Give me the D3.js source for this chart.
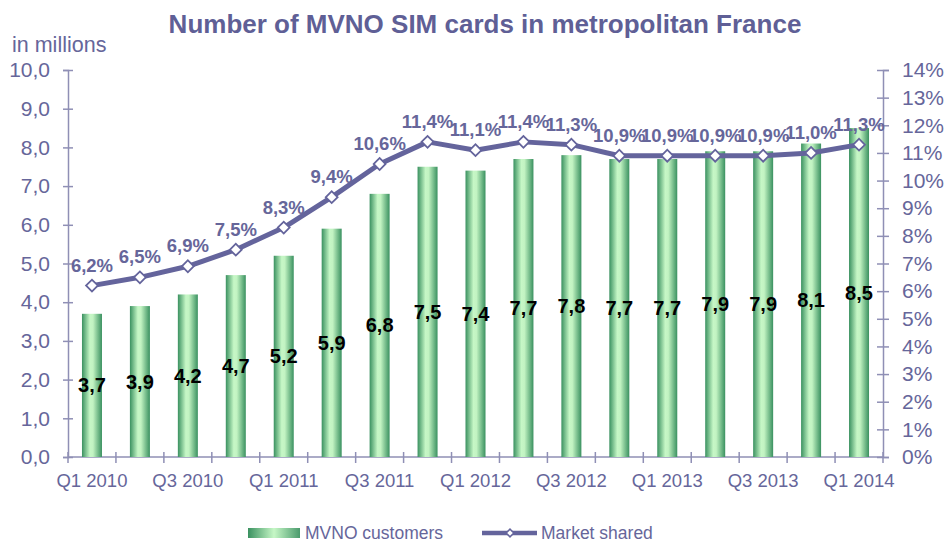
<!DOCTYPE html>
<html lang="en">
  <head>
    <meta charset="UTF-8" />
    <title>MVNO SIM cards</title>
    <script src="https://d3js.org/d3.v7.min.js"></script>
    <style>
      body { margin: 0; background: #fff; }
      text { font-family: "Liberation Sans", Arial, sans-serif; }
    </style>
  </head>
  <body>
    <div id="my_dataviz"></div>
    <script>
      // quarters, MVNO customers (millions), market share (%)
      const quarters = ['Q1 2010', 'Q2 2010', 'Q3 2010', 'Q4 2010', 'Q1 2011', 'Q2 2011', 'Q3 2011', 'Q4 2011',
        'Q1 2012', 'Q2 2012', 'Q3 2012', 'Q4 2012', 'Q1 2013', 'Q2 2013', 'Q3 2013', 'Q4 2013', 'Q1 2014'];
      const customers = [3.7, 3.9, 4.2, 4.7, 5.2, 5.9, 6.8, 7.5, 7.4, 7.7, 7.8, 7.7, 7.7, 7.9, 7.9, 8.1, 8.5];
      const share = [6.2, 6.5, 6.9, 7.5, 8.3, 9.4, 10.6, 11.4, 11.1, 11.4, 11.3, 10.9, 10.9, 10.9, 10.9, 11.0, 11.3];
      const leftTicks = [0, 1, 2, 3, 4, 5, 6, 7, 8, 9, 10];
      const rightTicks = [0, 1, 2, 3, 4, 5, 6, 7, 8, 9, 10, 11, 12, 13, 14];

      const width = 945, height = 543;
      const margin = { top: 70, right: 62, bottom: 86, left: 68 };
      const axisColor = '#8f8fb5';
      const textColor = '#66669a';
      const lineColor = '#64649c';

      const fr = d3.formatLocale({ decimal: ',', thousands: ' ', grouping: [3], currency: ['', '€'] });
      const f1 = fr.format('.1f');

      const svg = d3.select('#my_dataviz')
        .append('svg')
          .attr('width', width)
          .attr('height', height);

      const defs = svg.append('defs');
      const grad = defs.append('linearGradient')
        .attr('id', 'barGrad')
        .attr('x1', '0%').attr('x2', '100%')
        .attr('y1', '0%').attr('y2', '0%');
      grad.append('stop').attr('offset', '0%').attr('stop-color', '#3a9160');
      grad.append('stop').attr('offset', '40%').attr('stop-color', '#c6f7c6');
      grad.append('stop').attr('offset', '55%').attr('stop-color', '#c2f3c2');
      grad.append('stop').attr('offset', '100%').attr('stop-color', '#3a9160');

      const x = d3.scaleBand()
        .domain(quarters)
        .range([margin.left, width - margin.right]);

      const y = d3.scaleLinear()
        .domain([0, 10])
        .range([height - margin.bottom, margin.top]);

      const y2 = d3.scaleLinear()
        .domain([0, 14])
        .range([height - margin.bottom, margin.top]);

      // title
      svg.append('text')
        .attr('x', 485)
        .attr('y', 33)
        .attr('text-anchor', 'middle')
        .style('font-size', '26px')
        .style('font-weight', 'bold')
        .style('fill', '#5f5f96')
        .text('Number of MVNO SIM cards in metropolitan France');

      svg.append('text')
        .attr('x', 12)
        .attr('y', 52)
        .style('font-size', '21.5px')
        .style('fill', textColor)
        .text('in millions');

      // left axis
      const gl = svg.append('g')
        .attr('transform', `translate(${margin.left},0)`)
        .call(d3.axisLeft(y).tickValues(leftTicks).tickFormat(f1).tickSize(5).tickPadding(13));
      gl.selectAll('.tick line').attr('x2', 5).attr('x1', -5);

      // right axis
      const gr = svg.append('g')
        .attr('transform', `translate(${width - margin.right},0)`)
        .call(d3.axisRight(y2).tickValues(rightTicks).tickFormat(d => d + '%').tickSize(6).tickPadding(13));
      gr.selectAll('.tick line').attr('x1', -6).attr('x2', 6);

      [gl, gr].forEach(g => {
        g.select('.domain').attr('stroke', axisColor).attr('stroke-width', 1.5);
        g.selectAll('.tick line').attr('stroke', axisColor).attr('stroke-width', 1.5);
        g.selectAll('.tick text')
          .style('font-size', '21px')
          .style('fill', textColor)
          .style('font-family', '"Liberation Sans", Arial, sans-serif');
      });

      // bottom axis: ticks on band boundaries, labels every other quarter
      const base = y(0);
      svg.append('line')
        .attr('x1', margin.left).attr('x2', width - margin.right)
        .attr('y1', base).attr('y2', base)
        .attr('stroke', axisColor).attr('stroke-width', 1.5);
      const bounds = quarters.map(q => x(q)).concat([x.range()[1]]);
      svg.selectAll('.xtick')
        .data(bounds)
        .enter()
        .append('line')
          .attr('x1', d => d).attr('x2', d => d)
          .attr('y1', base - 5).attr('y2', base + 6)
          .attr('stroke', axisColor).attr('stroke-width', 1.5);
      svg.selectAll('.xlabel')
        .data(quarters.filter((q, i) => i % 2 === 0))
        .enter()
        .append('text')
          .attr('x', d => x(d) + x.bandwidth() / 2)
          .attr('y', base + 30)
          .attr('text-anchor', 'middle')
          .style('font-size', '18.5px')
          .style('fill', textColor)
          .text(d => d);

      // bars
      const barW = 20;
      svg.selectAll('.bar')
        .data(customers)
        .enter()
        .append('rect')
          .attr('x', (d, i) => x(quarters[i]) + x.bandwidth() / 2 - barW / 2)
          .attr('y', d => y(d))
          .attr('width', barW)
          .attr('height', d => base - y(d))
          .style('fill', 'url(#barGrad)');

      svg.selectAll('.barlabel')
        .data(customers)
        .enter()
        .append('text')
          .attr('x', (d, i) => x(quarters[i]) + x.bandwidth() / 2)
          .attr('y', d => (y(d) + base) / 2 + 7)
          .attr('text-anchor', 'middle')
          .style('font-size', '20px')
          .style('font-weight', 'bold')
          .style('fill', '#000')
          .text(d => f1(d));

      // market share line
      const line = d3.line()
        .x((d, i) => x(quarters[i]) + x.bandwidth() / 2)
        .y(d => y2(d));

      svg.append('path')
        .datum(share)
        .attr('d', line)
        .attr('fill', 'none')
        .attr('stroke', lineColor)
        .attr('stroke-width', 5)
        .attr('stroke-linejoin', 'round');

      const diamond = d3.symbol().type(d3.symbolSquare).size(70);
      svg.selectAll('.marker')
        .data(share)
        .enter()
        .append('path')
          .attr('d', diamond)
          .attr('transform', (d, i) => `translate(${x(quarters[i]) + x.bandwidth() / 2},${y2(d)}) rotate(45)`)
          .attr('fill', '#fff')
          .attr('stroke', lineColor)
          .attr('stroke-width', 1.8);

      svg.selectAll('.sharelabel')
        .data(share)
        .enter()
        .append('text')
          .attr('x', (d, i) => x(quarters[i]) + x.bandwidth() / 2)
          .attr('y', d => y2(d) - 14)
          .attr('text-anchor', 'middle')
          .style('font-size', '18.5px')
          .style('font-weight', 'bold')
          .style('fill', textColor)
          .text(d => f1(d) + '%');

      // legend
      const lg = svg.append('g').attr('transform', 'translate(0,533)');
      const lgGrad = defs.append('linearGradient')
        .attr('id', 'legGrad')
        .attr('x1', '0%').attr('x2', '100%');
      lgGrad.append('stop').attr('offset', '0%').attr('stop-color', '#3a9160');
      lgGrad.append('stop').attr('offset', '50%').attr('stop-color', '#c6f7c6');
      lgGrad.append('stop').attr('offset', '100%').attr('stop-color', '#4a9a6c');
      lg.append('rect')
        .attr('x', 248).attr('y', -5)
        .attr('width', 52).attr('height', 10)
        .style('fill', 'url(#legGrad)');
      lg.append('text')
        .attr('x', 305).attr('y', 6)
        .style('font-size', '17.5px')
        .style('fill', textColor)
        .text('MVNO customers');
      lg.append('line')
        .attr('x1', 482).attr('x2', 537)
        .attr('y1', 0).attr('y2', 0)
        .attr('stroke', lineColor).attr('stroke-width', 4.5);
      lg.append('path')
        .attr('d', d3.symbol().type(d3.symbolSquare).size(30))
        .attr('transform', 'translate(510,0) rotate(45)')
        .attr('fill', '#fff')
        .attr('stroke', lineColor)
        .attr('stroke-width', 1.5);
      lg.append('text')
        .attr('x', 541).attr('y', 6)
        .style('font-size', '17.5px')
        .style('fill', textColor)
        .text('Market shared');
    </script>
  </body>
</html>
